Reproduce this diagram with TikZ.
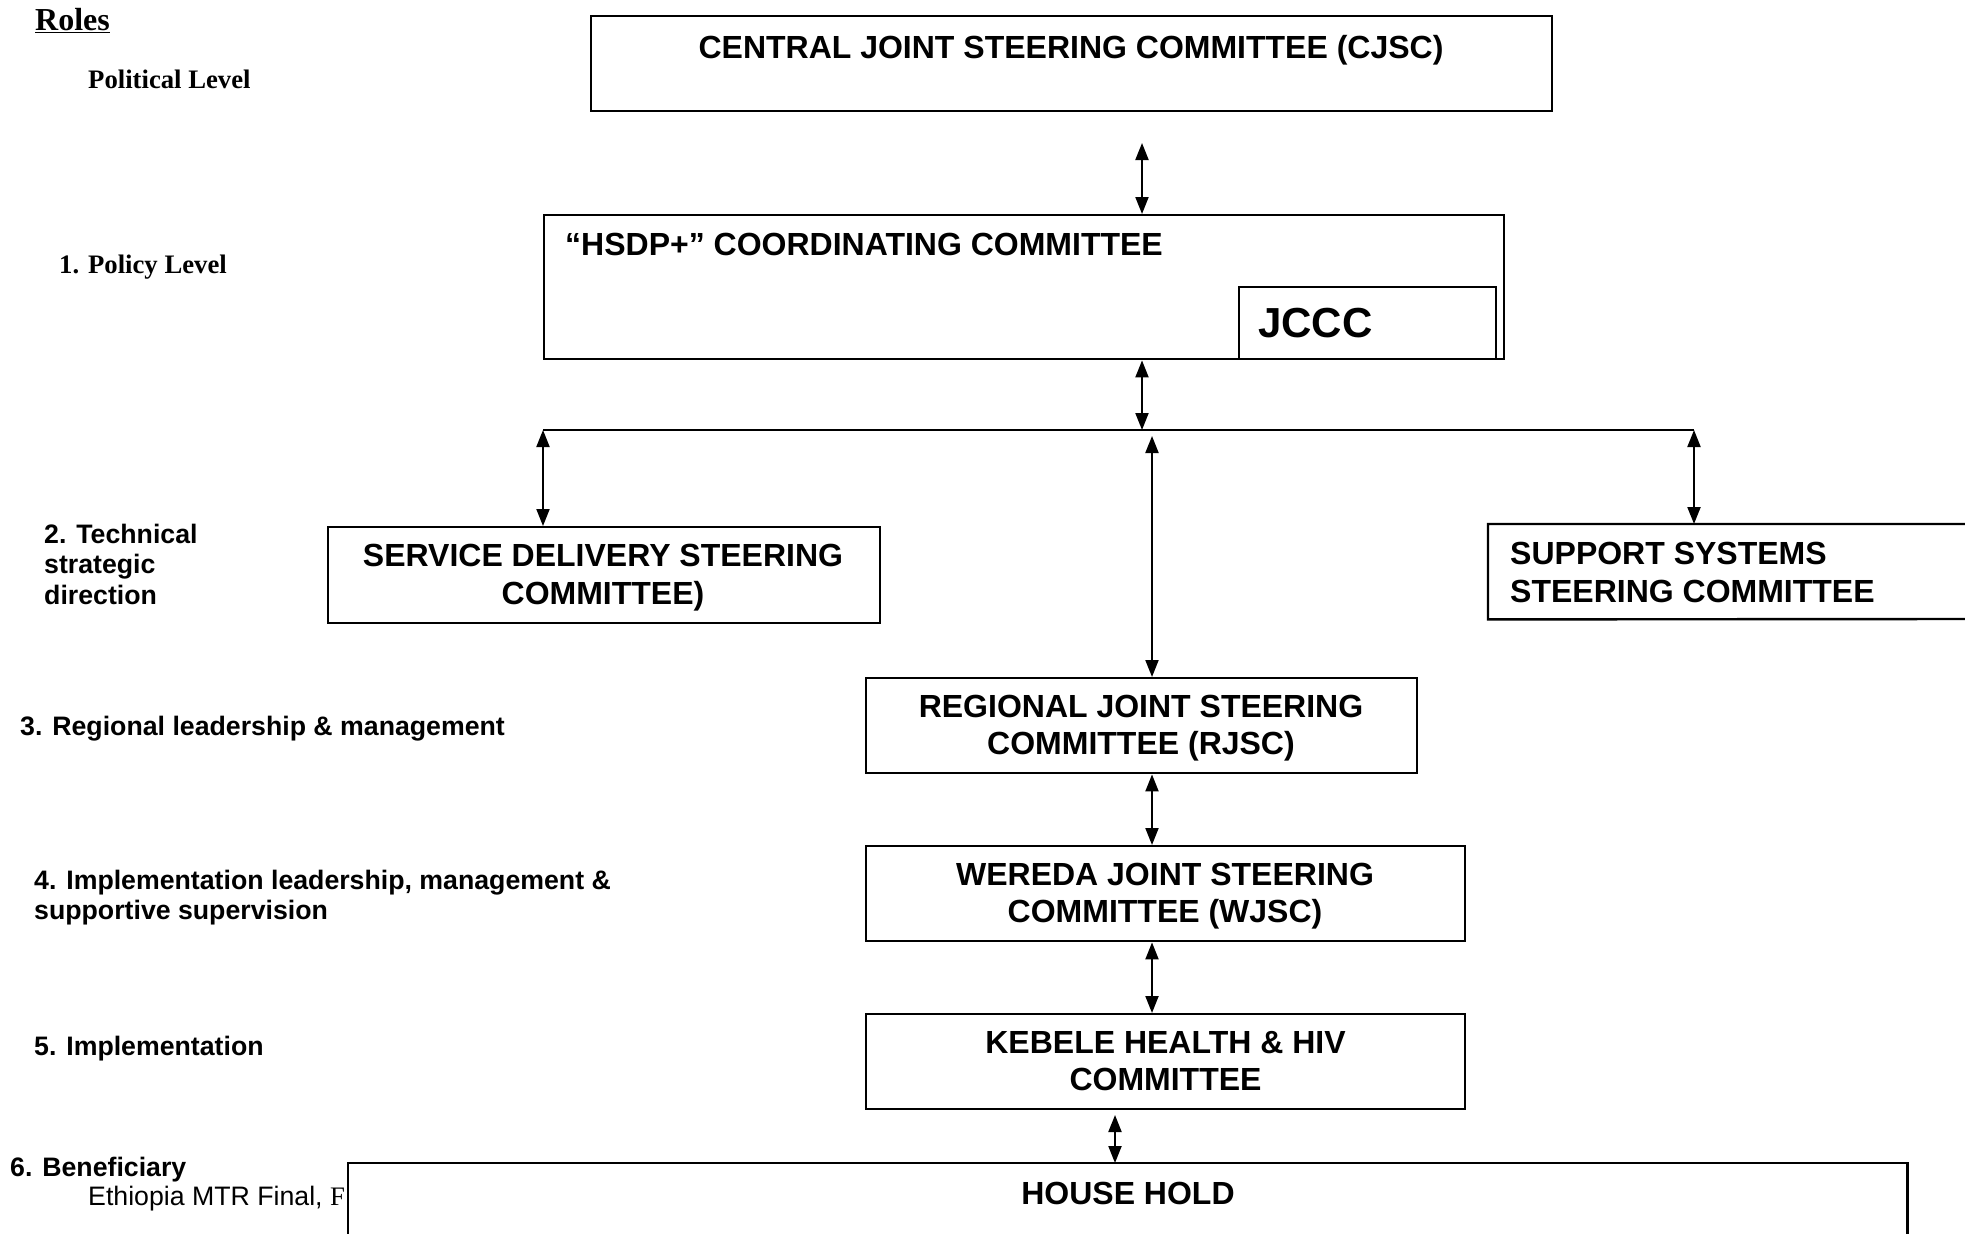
\documentclass[tikz,border=0pt]{standalone}
\usepackage{fontspec}
\setmainfont{Liberation Serif}
\setsansfont{Liberation Sans}
\usetikzlibrary{arrows.meta,calc}
\begin{document}
\begin{tikzpicture}[x=1pt,y=-1pt,
  box/.style={draw, line width=2.4pt, inner sep=0pt, anchor=north west},
  openbox/.style={inner sep=0pt, anchor=north west},
  btxt/.style={font=\sffamily\bfseries\fontsize{32}{38}\selectfont, inner sep=0pt, anchor=base},
  btxtl/.style={btxt, anchor=base west},
  ltxt/.style={font=\sffamily\bfseries\fontsize{26.7}{30}\selectfont, inner sep=0pt, anchor=base west},
  ttxt/.style={font=\rmfamily\bfseries\fontsize{26.7}{30}\selectfont, inner sep=0pt, anchor=base west},
  arr/.style={{Triangle[length=17pt,width=13pt]}-{Triangle[length=17pt,width=13pt]}, line width=2pt},
  bus/.style={line width=2pt}]
\useasboundingbox (0,0) rectangle (1965,1234);

% ---- role labels ----
\node[ttxt, font=\rmfamily\bfseries\fontsize{32}{36}\selectfont] (roles) at (35,30) {\underline{Roles}};
\node[ttxt] (pol) at (88,88) {Political Level};
\node[ttxt] (policy) at (59,273) {1. Policy Level};
\node[ltxt] (tech1) at (44,543.5) {2. Technical};
\node[ltxt] (tech2) at (44,573.5) {strategic};
\node[ltxt] (tech3) at (44,604.5) {direction};
\node[ltxt] (reg) at (20,735.5) {3. Regional leadership \& management};
\node[ltxt] (impl1) at (34,889.5) {4. Implementation leadership, management \&};
\node[ltxt] (impl2) at (34,919.5) {supportive supervision};
\node[ltxt] (impl) at (34,1055.5) {5. Implementation};
\node[ltxt] (ben) at (10,1176.5) {6. Beneficiary};
\node[ltxt, font=\sffamily\fontsize{26.7}{30}\selectfont] (foot) at (88,1205.5) {Ethiopia MTR Final, {\rmfamily F}};

% ---- boxes ----
\node[box, minimum width=961, minimum height=95] (cjsc) at (590,15) {};
\node[btxt] (cjsct) at (1071,58) {CENTRAL JOINT STEERING COMMITTEE (CJSC)};

\node[box, minimum width=960, minimum height=144] (hsdp) at (543,214) {};
\node[btxtl] (hsdpt) at (565,255.5) {“HSDP+” COORDINATING COMMITTEE};
\node[box, line width=2pt, minimum width=257, minimum height=72] (jccc) at (1238,286) {};
\node[btxtl, font=\sffamily\bfseries\fontsize{42}{48}\selectfont] (jccct) at (1258,337) {JCCC};

\node[box, minimum width=552, minimum height=96] (sdsc) at (327,526) {};
\node[btxt] (sdsct1) at (603,566.5) {SERVICE DELIVERY STEERING};
\node[btxt] (sdsct2) at (603,604.5) {COMMITTEE)};

\node[openbox, minimum width=480, minimum height=95] (sssc) at (1488,524) {};
\draw[line width=2.4pt] (1968,524) -- (sssc.north west) -- (sssc.south west) -- (1968,619);
\node[btxtl] (sssct1) at (1510,564) {SUPPORT SYSTEMS};
\node[btxtl] (sssct2) at (1510,602) {STEERING COMMITTEE};

\node[box, minimum width=551, minimum height=95] (rjsc) at (865,677) {};
\node[btxt] (rjsct1) at (1141,717) {REGIONAL JOINT STEERING};
\node[btxt] (rjsct2) at (1141,754.5) {COMMITTEE (RJSC)};

\node[box, minimum width=599, minimum height=95] (wjsc) at (865,845) {};
\node[btxt] (wjsct1) at (1165,885) {WEREDA JOINT STEERING};
\node[btxt] (wjsct2) at (1165,922.5) {COMMITTEE (WJSC)};

\node[box, minimum width=599, minimum height=95] (keb) at (865,1013) {};
\node[btxt] (kebt1) at (1165.5,1053) {KEBELE HEALTH \& HIV};
\node[btxt] (kebt2) at (1165.5,1090.5) {COMMITTEE};

\node[openbox, minimum width=1559, minimum height=75] (hh) at (348,1163) {};
\draw[line width=2.4pt] (hh.south west) -- (hh.north west) -- (hh.north east) -- (hh.south east);
\node[btxt] (hht) at (1128,1204.5) {HOUSE HOLD};

% ---- connectors ----
\coordinate (c1) at (1142,143);
\draw[arr] (c1) -- (c1 |- hsdp.north);
\coordinate (busL) at (543,430);
\coordinate (busR) at (1694,430);
\coordinate (busM) at (1142,430);
\draw[bus] (busL) -- (busR);
\draw[arr] (busM |- hsdp.south) -- (busM);
\draw[arr] (busL) -- (busL |- sdsc.north);
\draw[arr] (busR) -- (busR |- sssc.north);
\coordinate (c2) at (1152,436);
\draw[arr] (c2) -- (c2 |- rjsc.north);
\draw[arr] (c2 |- rjsc.south) -- (c2 |- wjsc.north);
\draw[arr] (c2 |- wjsc.south) -- (c2 |- keb.north);
\coordinate (c3) at (1115,1115);
\draw[arr] (c3) -- (c3 |- hh.north);
\end{tikzpicture}
\end{document}
